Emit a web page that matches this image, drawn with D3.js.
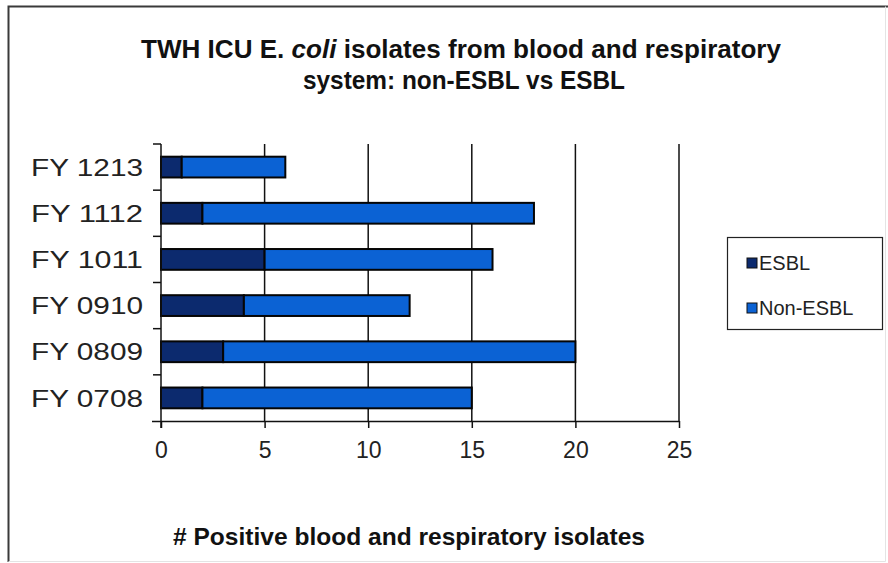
<!DOCTYPE html>
<html>
<head>
<meta charset="utf-8">
<script src="https://cdn.jsdelivr.net/npm/d3@7"></script>
<style>
  html, body { margin: 0; padding: 0; background: #fff; }
  svg { display: block; }
</style>
</head>
<body>
<svg id="chart" width="888" height="563"></svg>
<script>
const categories = ["FY 1213", "FY 1112", "FY 1011", "FY 0910", "FY 0809", "FY 0708"];
const esbl =    [1, 2, 5, 4, 3, 2];
const nonEsbl = [5, 16, 11, 8, 17, 13];
const seriesNames = ["ESBL", "Non-ESBL"];
const seriesColors = ["#0c2a6e", "#0b62d4"];
const xTicks = [0, 5, 10, 15, 20, 25];

const svg = d3.select("#chart");
const W = 888, H = 563;
svg.append("rect").attr("width", W).attr("height", H).attr("fill", "#fff");

// outer frame
svg.append("path").attr("d", "M8.5,562 L8.5,6.5 L888,6.5")
  .attr("fill", "none").attr("stroke", "#3a3a3a").attr("stroke-width", 2);
svg.append("path").attr("d", "M885.5,6.5 L885.5,561.5 L8.5,561.5")
  .attr("fill", "none").attr("stroke", "#e4e4e4").attr("stroke-width", 1);

const plot = {left: 161, right: 679, top: 144, bottom: 421};

const x = d3.scaleLinear().domain([0, 25]).range([plot.left, plot.right]);
const y = d3.scaleBand().domain(categories).range([plot.top, plot.bottom]).paddingInner(0.55).paddingOuter(0.275);
const yb = d3.scaleBand().domain(categories).range([plot.top, plot.bottom]);

// gridlines
svg.append("g").selectAll("line").data(xTicks.filter(d => d > 0)).join("line")
  .attr("x1", d => x(d)).attr("x2", d => x(d))
  .attr("y1", plot.top).attr("y2", plot.bottom)
  .attr("stroke", "#111").attr("stroke-width", 1.5);

// bars
const rows = categories.map((c, i) => ({cat: c, vals: [esbl[i], nonEsbl[i]]}));
const stack = d3.stack().keys([0, 1]).value((d, k) => d.vals[k]);
const stacked = stack(rows);
stacked.forEach((layer, li) => {
  svg.append("g").selectAll("rect").data(layer).join("rect")
    .attr("x", d => x(d[0]))
    .attr("y", d => y(d.data.cat))
    .attr("width", d => x(d[1]) - x(d[0]))
    .attr("height", y.bandwidth())
    .attr("fill", seriesColors[li])
    .attr("stroke", "#050505")
    .attr("stroke-width", 2);
});

// x axis
const xAxis = d3.axisBottom(x).tickValues(xTicks).tickSize(7).tickSizeOuter(0);
const gx = svg.append("g").attr("transform", `translate(0,${plot.bottom})`).call(xAxis);
gx.select(".domain").attr("d", `M${plot.left - 9},0.5H${plot.right}`).attr("stroke", "#111").attr("stroke-width", 1.5);
gx.selectAll(".tick line").attr("stroke", "#111").attr("stroke-width", 1.5);
gx.selectAll(".tick text").attr("dy", 0).attr("y", 37)
  .attr("font-family", "Liberation Sans, Arial, sans-serif").attr("font-size", 23).attr("fill", "#222");

// y axis
const gy = svg.append("g").attr("transform", `translate(${plot.left},0)`);
gy.append("line").attr("x1", 0).attr("x2", 0).attr("y1", plot.top).attr("y2", plot.bottom + 7)
  .attr("stroke", "#111").attr("stroke-width", 1.5);
const bounds = categories.map(c => yb(c));
gy.selectAll("line.tk").data(bounds).join("line").attr("class", "tk")
  .attr("x1", -8).attr("x2", 0).attr("y1", d => d).attr("y2", d => d)
  .attr("stroke", "#111").attr("stroke-width", 1.5);
gy.selectAll("text").data(categories).join("text")
  .attr("x", -18).attr("y", d => yb(d) + yb.bandwidth() / 2)
  .attr("dy", "0.36em").attr("text-anchor", "end")
  .attr("font-family", "Liberation Sans, Arial, sans-serif").attr("font-size", 24).attr("fill", "#222")
  .attr("textLength", 112).attr("lengthAdjust", "spacingAndGlyphs")
  .text(d => d);

// title
const title = svg.append("g").attr("font-family", "Liberation Sans, Arial, sans-serif")
  .attr("font-weight", "bold").attr("font-size", 25).attr("fill", "#111").attr("text-anchor", "middle");
const t1 = title.append("text").attr("x", 461).attr("y", 58)
  .attr("textLength", 640).attr("lengthAdjust", "spacingAndGlyphs");
t1.append("tspan").text("TWH ICU E. ");
t1.append("tspan").attr("font-style", "italic").text("coli");
t1.append("tspan").text(" isolates from blood and respiratory");
title.append("text").attr("x", 464).attr("y", 89)
  .attr("textLength", 322).attr("lengthAdjust", "spacingAndGlyphs")
  .text("system: non-ESBL vs ESBL");

// x axis title
svg.append("text").attr("x", 409).attr("y", 545).attr("text-anchor", "middle")
  .attr("font-family", "Liberation Sans, Arial, sans-serif")
  .attr("font-weight", "bold").attr("font-size", 24).attr("fill", "#111")
  .attr("textLength", 472).attr("lengthAdjust", "spacingAndGlyphs")
  .text("# Positive blood and respiratory  isolates");

// legend
const lg = svg.append("g");
lg.append("rect").attr("x", 727.5).attr("y", 237.5).attr("width", 155).attr("height", 92)
  .attr("fill", "#fff").attr("stroke", "#222").attr("stroke-width", 1.2);
seriesNames.forEach((n, i) => {
  const cy = 263 + i * 45;
  lg.append("rect").attr("x", 747).attr("y", cy - 5).attr("width", 10).attr("height", 10)
    .attr("fill", seriesColors[i]).attr("stroke", "#111").attr("stroke-width", 1);
  lg.append("text").attr("x", 759).attr("y", cy).attr("dy", "0.36em")
    .attr("font-family", "Liberation Sans, Arial, sans-serif").attr("font-size", 20).attr("fill", "#222")
    .text(n);
});
</script>
</body>
</html>
